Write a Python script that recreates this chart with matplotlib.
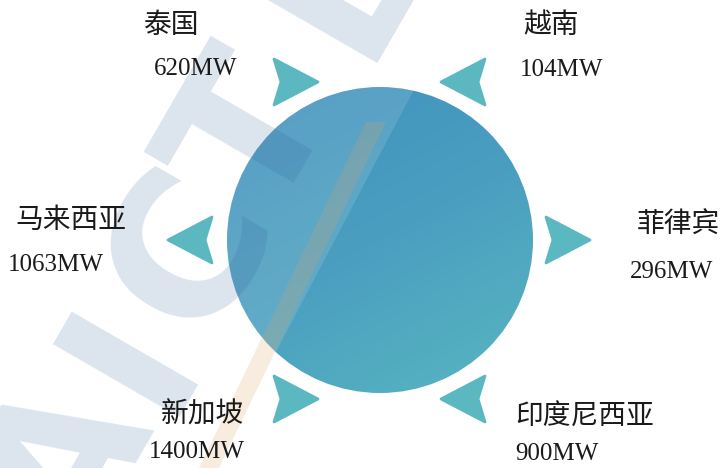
import numpy as np
import matplotlib
matplotlib.use('Agg')
import matplotlib.pyplot as plt
from matplotlib.patches import Circle, Polygon
from matplotlib.colors import LinearSegmentedColormap

# data
countries = ['泰国', '越南', '马来西亚', '菲律宾', '新加坡', '印度尼西亚']
capacity_mw = [620, 104, 1063, 296, 1400, 900]

# layout (pixel coords, y down)
name_xy = [(172, 25), (551, 25), (71, 220), (678, 225), (203, 415), (585, 417)]
value_xy = [(196, 69), (562, 70), (56, 265), (672, 272), (197, 452), (557, 454)]
arrow_back = [(274, 82), (485, 82), (212, 240), (546, 240), (274, 399), (485, 399)]
arrow_dir = [1, -1, -1, 1, 1, -1]   # +1 points right, -1 points left

center = (380, 240)
radius = 153

fig = plt.figure(figsize=(7.25, 4.68), dpi=100)
ax = fig.add_axes([0, 0, 1, 1])
ax.set_xlim(0, 725)
ax.set_ylim(468, 0)
ax.set_aspect('auto')
ax.axis('off')

######## circle with gradient
cmap = LinearSegmentedColormap.from_list('c', ['#4090bd', '#4a9fc0', '#58b6c0'])
yy, xx = np.mgrid[0:1:200j, 0:1:200j]
grad = (xx * 0.35 + yy * 0.65)
circ = Circle(center, radius, facecolor='none', edgecolor='none')
ax.add_patch(circ)
img = ax.imshow(grad, cmap=cmap, extent=(center[0] - radius, center[0] + radius,
                                        center[1] + radius, center[1] - radius),
                zorder=2, interpolation='bilinear')
img.set_clip_path(circ)
# lighter left part of the circle (watermark overlay)
shade = Polygon([(440, 40), (0, 40), (0, 468), (215, 468)], closed=True,
                facecolor='white', edgecolor='none', alpha=0.12, zorder=2.5)
ax.add_patch(shade)
shade.set_clip_path(circ)

######## arrows
for (bx, by), d in zip(arrow_back, arrow_dir):
    L, W, notch = 44, 46, 7
    pts = [(bx, by - W / 2), (bx + d * L, by), (bx, by + W / 2), (bx + d * notch, by)]
    ax.add_patch(Polygon(pts, closed=True, facecolor='#5bb8c1', edgecolor='#5bb8c1',
                         linewidth=2, joinstyle='round', zorder=3))

######## watermark
wm_letters = ['A', 'I', 'C', 'T', 'L']
wm_base = [(116, 496), (180, 385), (240, 278), (303, 165), (392, 8)]
for ch, (x, y) in zip(wm_letters, wm_base):
    ax.text(x, y, ch, rotation=60, rotation_mode='anchor', ha='center', va='baseline',
            fontsize=144, fontweight='bold', family='DejaVu Sans',
            color='#2f5f9a', alpha=0.17, zorder=4)
stripe = [(198, 470), (218, 470), (386, 122), (366, 122)]
ax.add_patch(Polygon(stripe, closed=True, facecolor='#e0a060', edgecolor='none',
                     alpha=0.2, zorder=4))

######## labels
for name, v, (nx, ny), (vx, vy) in zip(countries, capacity_mw, name_xy, value_xy):
    ax.text(nx, ny, name, ha='center', va='center', fontsize=20,
            family=['Noto Sans CJK SC', 'DejaVu Sans'], fontweight='light',
            color='#1a1a1a', zorder=5)
    ax.text(vx, vy, f'{v}MW', ha='center', va='center', fontsize=18,
            family='Liberation Serif', color='#1a1a1a', zorder=5)

fig.savefig('out.png', dpi=100)
